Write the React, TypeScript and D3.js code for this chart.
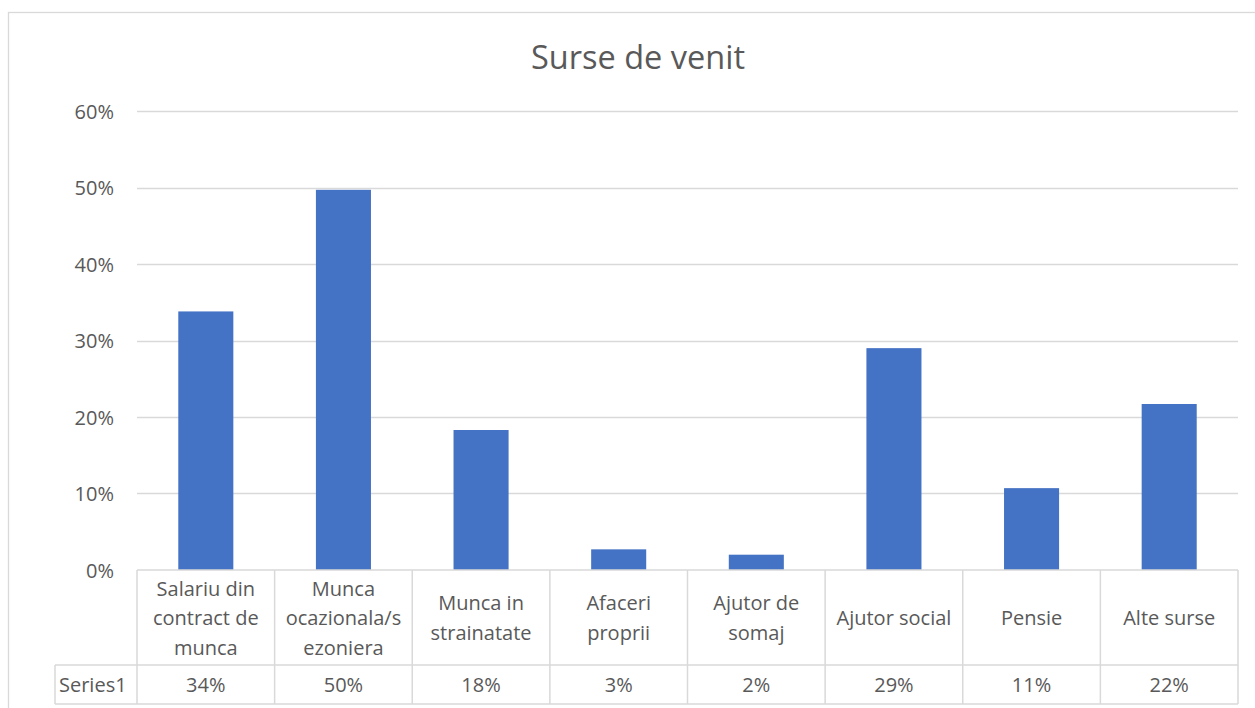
import React, { useRef, useEffect } from 'react';
import * as d3 from 'd3';

const title = 'Surse de venit';
const seriesName = 'Series1';
const categories = [
  'Salariu din contract de munca',
  'Munca ocazionala/sezoniera',
  'Munca in strainatate',
  'Afaceri proprii',
  'Ajutor de somaj',
  'Ajutor social',
  'Pensie',
  'Alte surse',
];
// how Excel wrapped the labels in the data table
const categoryLines = [
  ['Salariu din', 'contract de', 'munca'],
  ['Munca', 'ocazionala/s', 'ezoniera'],
  ['Munca in', 'strainatate'],
  ['Afaceri', 'proprii'],
  ['Ajutor de', 'somaj'],
  ['Ajutor social'],
  ['Pensie'],
  ['Alte surse'],
];
const values = [0.338, 0.497, 0.183, 0.027, 0.02, 0.29, 0.107, 0.217];
const tableLabels = ['34%', '50%', '18%', '3%', '2%', '29%', '11%', '22%'];
const yTicks = [0, 0.1, 0.2, 0.3, 0.4, 0.5, 0.6];

const FONT = '"Open Sans", "Noto Sans", sans-serif';
const TEXT = '#595959';
const GRID = '#d9d9d9';
const FS = 20;

function App() {
  const ref = useRef<SVGSVGElement>(null);

  useEffect(() => {
    const svg = d3.select(ref.current);
    svg.selectAll('*').remove();

    const left = 137, right = 1238, top = 111, bottom = 570;
    const headBottom = 665, rowBottom = 704, seriesLeft = 55;

    // chart frame
    svg.append('rect')
      .attr('x', 8.5).attr('y', 12.5)
      .attr('width', 1262).attr('height', 720)
      .attr('fill', '#fff').attr('stroke', GRID).attr('stroke-width', 1.3);

    svg.append('text')
      .attr('x', 638).attr('y', 56)
      .attr('text-anchor', 'middle').attr('dominant-baseline', 'central')
      .attr('font-family', FONT).attr('font-size', 32.5)
      .attr('fill', TEXT).text(title);

    const x = d3.scaleBand<string>()
      .domain(categories)
      .range([left, right])
      .paddingInner(0.6).paddingOuter(0.3);
    const cell = d3.scaleBand<string>().domain(categories).range([left, right]);

    const y = d3.scaleLinear().domain([0, 0.6]).range([bottom, top]);

    // gridlines
    svg.append('g').selectAll('line')
      .data(yTicks.slice(1))
      .join('line')
      .attr('x1', left).attr('x2', right)
      .attr('y1', d => Math.round(y(d)) + 0.5).attr('y2', d => Math.round(y(d)) + 0.5)
      .attr('stroke', GRID).attr('stroke-width', 1.3);

    svg.append('g').selectAll('text')
      .data(yTicks)
      .join('text')
      .attr('x', 114).attr('y', d => y(d))
      .attr('text-anchor', 'end').attr('dominant-baseline', 'central')
      .attr('font-family', FONT).attr('font-size', FS)
      .attr('fill', TEXT)
      .text(d => d3.format('.0%')(d));

    // bars
    svg.append('g').selectAll('rect')
      .data(values)
      .join('rect')
      .attr('x', (d, i) => x(categories[i])!)
      .attr('width', x.bandwidth())
      .attr('y', d => y(d))
      .attr('height', d => bottom - y(d))
      .attr('fill', '#4472c4');

    // data table
    const tbl = svg.append('g')
      .attr('stroke', GRID).attr('stroke-width', 1.5).attr('fill', 'none');
    tbl.append('line').attr('x1', left).attr('x2', right).attr('y1', bottom).attr('y2', bottom);
    tbl.append('line').attr('x1', seriesLeft).attr('x2', right).attr('y1', headBottom).attr('y2', headBottom);
    tbl.append('line').attr('x1', seriesLeft).attr('x2', right).attr('y1', rowBottom).attr('y2', rowBottom);
    tbl.append('line').attr('x1', seriesLeft).attr('x2', seriesLeft).attr('y1', headBottom).attr('y2', rowBottom);
    tbl.selectAll('line.v')
      .data(categories.concat(['end']))
      .join('line')
      .attr('class', 'v')
      .attr('x1', (d, i) => i < categories.length ? cell(d)! : right)
      .attr('x2', (d, i) => i < categories.length ? cell(d)! : right)
      .attr('y1', bottom).attr('y2', rowBottom);

    const lineH = 29.5;
    const headMid = (bottom + headBottom) / 2;
    categories.forEach((c, i) => {
      const lines = categoryLines[i];
      const cx = cell(c)! + cell.bandwidth() / 2;
      const t = svg.append('text')
        .attr('text-anchor', 'middle')
        .attr('font-family', FONT).attr('font-size', FS)
        .attr('fill', TEXT);
      lines.forEach((l, j) => {
        t.append('tspan')
          .attr('x', cx)
          .attr('y', headMid + (j - (lines.length - 1) / 2) * lineH)
          .attr('dominant-baseline', 'central')
          .text(l);
      });
      svg.append('text')
        .attr('x', cx).attr('y', (headBottom + rowBottom) / 2)
        .attr('text-anchor', 'middle').attr('dominant-baseline', 'central')
        .attr('font-family', FONT).attr('font-size', FS)
        .attr('fill', TEXT).text(tableLabels[i]);
    });

    svg.append('text')
      .attr('x', 59).attr('y', (headBottom + rowBottom) / 2)
      .attr('dominant-baseline', 'central')
      .attr('font-family', FONT).attr('font-size', FS)
      .attr('fill', TEXT).text(seriesName);
  }, []);

  return (
    <svg ref={ref} width={1255} height={708}
      style={{ position: 'absolute', left: 0, top: 0, display: 'block' }} />
  );
}

export default App;
